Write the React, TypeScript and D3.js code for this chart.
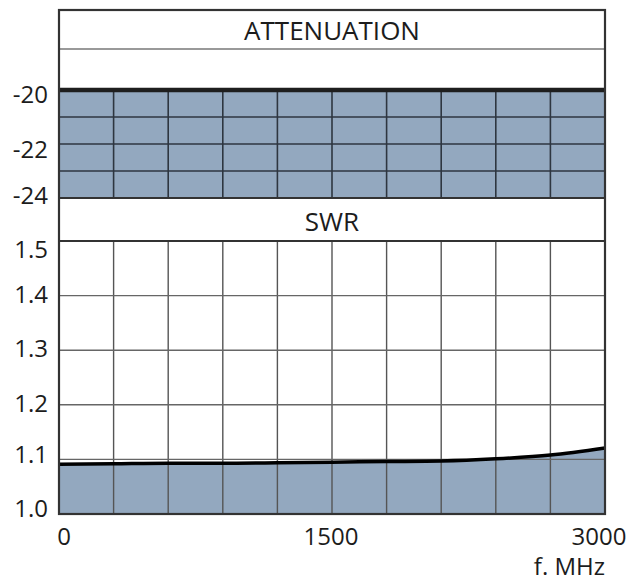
import React from "react";
import * as d3 from "d3";

const freqs = [0, 300, 600, 900, 1200, 1500, 1800, 2100, 2400, 2700, 3000];
const swrValues = [1.091, 1.092, 1.093, 1.093, 1.094, 1.095, 1.096, 1.097, 1.101, 1.108, 1.121];
const attenuationValues = [-20, -20, -20, -20, -20, -20, -20, -20, -20, -20, -20];
const attTicks = [-20, -22, -24];
const attGrid = [-21, -22, -23];
const swrTicks = [1.0, 1.1, 1.2, 1.3, 1.4, 1.5];
const xTickLabels = [0, 1500, 3000];
const xGrid = [300, 600, 900, 1200, 1500, 1800, 2100, 2400, 2700];

const W = 642;
const H = 581;
const left = 59;
const right = 605;
const top = 10;
const titleBottom = 49;
const attTop = 90;
const attBottom = 198;
const swrTop = 241;
const swrBottom = 514;

const FILL = "#93a8bf";
const FONT = "'Open Sans', 'Noto Sans', sans-serif";
const TXT = "#1c1c1c";

export default function App() {
  const x = d3.scaleLinear().domain([0, 3000]).range([left, right]);
  const yAtt = d3.scaleLinear().domain([-24, -20]).range([attBottom, attTop]);
  const ySwr = d3.scaleLinear().domain([1.0, 1.5]).range([swrBottom, swrTop]);

  const attData = freqs.map((f, i) => ({ f, v: attenuationValues[i] }));
  const swrData = freqs.map((f, i) => ({ f, v: swrValues[i] }));

  const attArea = d3
    .area<{ f: number; v: number }>()
    .x((d) => x(d.f))
    .y0(yAtt(-24))
    .y1((d) => yAtt(d.v));
  const attLine = d3
    .line<{ f: number; v: number }>()
    .x((d) => x(d.f))
    .y((d) => yAtt(d.v));
  const swrArea = d3
    .area<{ f: number; v: number }>()
    .curve(d3.curveMonotoneX)
    .x((d) => x(d.f))
    .y0(ySwr(1.0))
    .y1((d) => ySwr(d.v));
  const swrLine = d3
    .line<{ f: number; v: number }>()
    .curve(d3.curveMonotoneX)
    .x((d) => x(d.f))
    .y((d) => ySwr(d.v));

  const attDy: Record<number, number> = { [-20]: 13, [-22]: 14, [-24]: 6 };
  const swrDy: Record<string, number> = {
    "1.0": 3,
    "1.1": 4,
    "1.2": 7,
    "1.3": 7,
    "1.4": 7,
    "1.5": 17,
  };
  const xDx = [5, -1, -6];

  return (
    <svg
      width={W}
      height={H}
      style={{ position: "absolute", left: 0, top: 0, background: "#fff" }}
      fontFamily={FONT}
    >
      <rect x={0} y={0} width={W} height={H} fill="#fff" />

      {/* attenuation panel */}
      <path d={attArea(attData) || ""} fill={FILL} />
      {xGrid.map((f) => (
        <line key={"ag" + f} x1={x(f)} x2={x(f)} y1={attTop} y2={attBottom} stroke="#2e3640" strokeWidth={1.6} />
      ))}
      {attGrid.map((v) => (
        <line key={"ah" + v} x1={left} x2={right} y1={yAtt(v)} y2={yAtt(v)} stroke="#2e3640" strokeWidth={1.6} />
      ))}
      <path d={attLine(attData) || ""} fill="none" stroke="#1e1e1e" strokeWidth={4.5} />
      <line x1={left} x2={right} y1={attBottom} y2={attBottom} stroke="#333" strokeWidth={2} />
      <line x1={left} x2={right} y1={titleBottom} y2={titleBottom} stroke="#777" strokeWidth={1.5} />
      <text x={(left + right) / 2} y={40} textAnchor="middle" fontSize={26} fill={TXT}>
        ATTENUATION
      </text>

      {/* SWR panel */}
      <text x={(left + right) / 2} y={231} textAnchor="middle" fontSize={26} fill={TXT}>
        SWR
      </text>
      <path d={swrArea(swrData) || ""} fill={FILL} />
      {xGrid.map((f) => (
        <line key={"sg" + f} x1={x(f)} x2={x(f)} y1={swrTop} y2={swrBottom} stroke="#555" strokeWidth={1.4} />
      ))}
      {swrTicks.slice(1, 5).map((v) => (
        <line key={"sh" + v} x1={left} x2={right} y1={ySwr(v)} y2={ySwr(v)} stroke="#666" strokeWidth={1.4} />
      ))}
      <path d={swrLine(swrData) || ""} fill="none" stroke="#000" strokeWidth={3.5} />
      <line x1={left} x2={right} y1={swrTop} y2={swrTop} stroke="#333" strokeWidth={2.2} />

      {/* outer frame */}
      <rect x={left} y={top} width={right - left} height={swrBottom - top} fill="none" stroke="#333" strokeWidth={2.2} />

      {/* labels */}
      {attTicks.map((v) => (
        <text key={"at" + v} x={48} y={yAtt(v) + attDy[v]} textAnchor="end" fontSize={24} fill={TXT}>
          {v}
        </text>
      ))}
      {swrTicks.map((v) => (
        <text key={"st" + v} x={48} y={ySwr(v) + swrDy[v.toFixed(1)]} textAnchor="end" fontSize={24} fill={TXT}>
          {v.toFixed(1)}
        </text>
      ))}
      {xTickLabels.map((f, i) => (
        <text key={"xt" + f} x={x(f) + xDx[i]} y={545} textAnchor="middle" fontSize={24} fill={TXT}>
          {f}
        </text>
      ))}
      <text x={right} y={575} textAnchor="end" fontSize={24} fill={TXT}>
        f. MHz
      </text>
    </svg>
  );
}
